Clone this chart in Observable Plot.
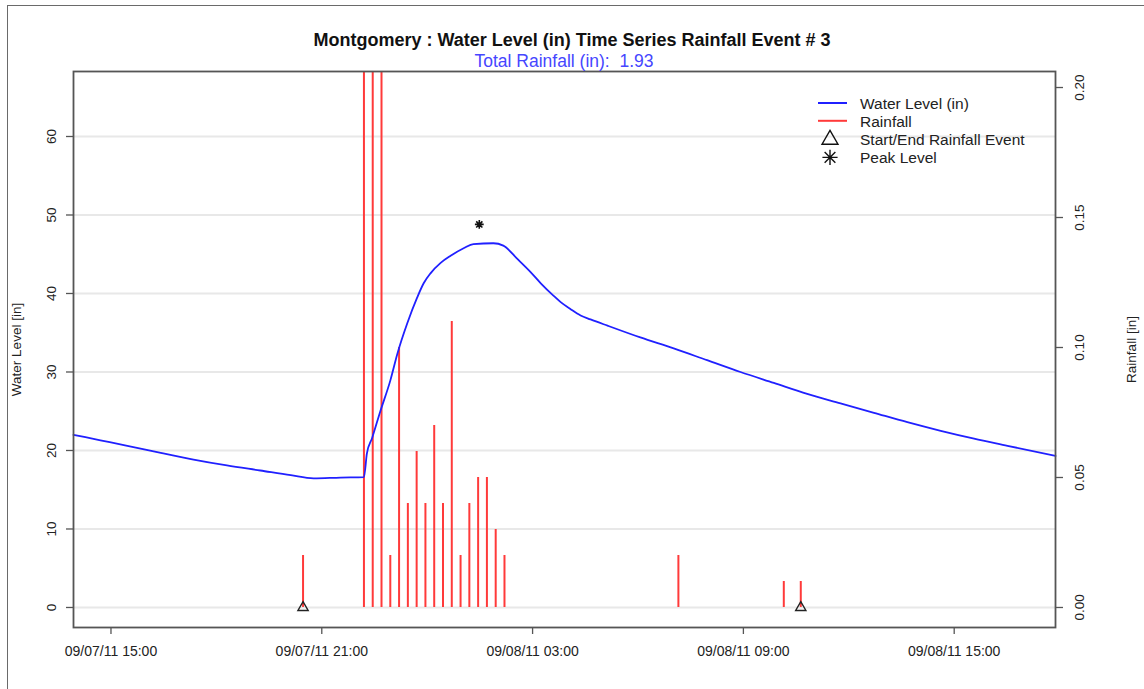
<!DOCTYPE html>
<html>
<head>
<meta charset="utf-8">
<script src="https://cdn.jsdelivr.net/npm/d3@7"></script>
<script src="https://cdn.jsdelivr.net/npm/@observablehq/plot@0.6"></script>
<style>
  body { margin: 0; background: #fff; }
  #page { position: relative; width: 1144px; height: 689px; overflow: hidden; background: #fff;
          font-family: "Liberation Sans", Arial, sans-serif; }
  .bt { position: absolute; left: 7px; top: 5px; width: 1137px; height: 0; border-top: 1.6px solid #6a6a6a; }
  .bl { position: absolute; left: 7px; top: 5px; width: 0; height: 684px; border-left: 1.6px solid #6a6a6a; }
  #title { position: absolute; top: 29px; left: 0; width: 1144px; text-align: center; font-weight: bold;
           font-size: 18px; color: #111; line-height: 22px; }
  #subtitle { position: absolute; top: 51px; left: 73px; width: 982px; text-align: center;
              font-size: 17.5px; color: #4646ff; line-height: 20px; white-space: pre; }
  #chart { position: absolute; left: 0; top: 0; }
  #legend { position: absolute; left: 810px; top: 92px; }
</style>
</head>
<body>
<div id="page">
  <div class="bt"></div>
  <div class="bl"></div>
  <div id="chart"></div>
  <div id="title">Montgomery : Water Level (in) Time Series Rainfall Event # 3</div>
  <div id="subtitle">Total Rainfall (in):  1.93</div>
  <svg id="legend" width="240" height="80"></svg>
</div>
<script>
// ---- data ----
const levelTimes = [
  "09/07/11 13:56", "09/07/11 14:42", "09/07/11 15:28", "09/07/11 16:25", "09/07/11 17:21",
  "09/07/11 18:18", "09/07/11 19:15", "09/07/11 20:07", "09/07/11 20:46", "09/07/11 21:32",
  "09/07/11 22:12", "09/07/11 22:17", "09/07/11 22:26", "09/07/11 22:40", "09/07/11 22:57",
  "09/07/11 23:09", "09/07/11 23:26", "09/07/11 23:43", "09/07/11 23:54", "09/08/11 00:06",
  "09/08/11 00:23", "09/08/11 00:40", "09/08/11 01:03", "09/08/11 01:19", "09/08/11 01:53",
  "09/08/11 02:10", "09/08/11 02:34", "09/08/11 02:57", "09/08/11 03:14", "09/08/11 03:36",
  "09/08/11 03:48", "09/08/11 04:05", "09/08/11 04:22", "09/08/11 04:39", "09/08/11 05:08",
  "09/08/11 06:04", "09/08/11 07:01", "09/08/11 07:58", "09/08/11 08:55", "09/08/11 09:52",
  "09/08/11 10:49", "09/08/11 11:46", "09/08/11 12:43", "09/08/11 13:40", "09/08/11 14:37",
  "09/08/11 15:34", "09/08/11 16:31", "09/08/11 17:53"
];
const levelValues = [
  22.0, 21.3, 20.6, 19.7, 18.85,
  18.1, 17.45, 16.85, 16.45, 16.55,
  16.6, 19.6, 21.6, 25.0, 28.9,
  32.3, 36.2, 39.5, 41.3, 42.6,
  43.9, 44.8, 45.8, 46.3, 46.4,
  46.1, 44.4, 42.7, 41.3, 39.7,
  38.9, 38.0, 37.2, 36.7, 35.9,
  34.4, 33.0, 31.5, 30.0, 28.6,
  27.2, 26.0, 24.8, 23.6, 22.5,
  21.5, 20.6, 19.3
];
const rainTimes = [
  "09/07/11 20:28", "09/07/11 22:12", "09/07/11 22:27", "09/07/11 22:42", "09/07/11 22:57",
  "09/07/11 23:12", "09/07/11 23:27", "09/07/11 23:42", "09/07/11 23:57", "09/08/11 00:12",
  "09/08/11 00:27", "09/08/11 00:42", "09/08/11 00:57", "09/08/11 01:12", "09/08/11 01:27",
  "09/08/11 01:42", "09/08/11 01:57", "09/08/11 02:12", "09/08/11 07:09", "09/08/11 10:09",
  "09/08/11 10:38"
];
const rainValues = [
  0.02, 0.45, 0.41, 0.32, 0.02,
  0.10, 0.04, 0.06, 0.04, 0.07,
  0.04, 0.11, 0.02, 0.04, 0.05,
  0.05, 0.03, 0.02, 0.02, 0.01,
  0.01
];
const eventTimes = ["09/07/11 20:28", "09/08/11 10:38"];   // start / end of rainfall event
const peakTimes = ["09/08/11 01:29"];
const peakValues = [48.8];
const xTickLabels = ["09/07/11 15:00", "09/07/11 21:00", "09/08/11 03:00", "09/08/11 09:00", "09/08/11 15:00"];
const xDomainLabels = ["09/07/11 13:56", "09/08/11 17:53"];
const levelTicks = [0, 10, 20, 30, 40, 50, 60];
const rainTicks = [0, 0.05, 0.10, 0.15, 0.20];
const levelDomain = [-2.55, 68.28];

// ---- build ----
const parse = d3.utcParse("%m/%d/%y %H:%M");
const fmt = d3.utcFormat("%m/%d/%y %H:%M");
const K = 331.2; // rainfall (in) -> water-level units on the shared vertical scale
const level = levelTimes.map((t, i) => ({t: parse(t), v: levelValues[i]}));
const rain = rainTimes.map((t, i) => ({t: parse(t), v: rainValues[i]}));
const events = eventTimes.map(t => ({t: parse(t)}));
const peak = peakTimes.map((t, i) => ({t: parse(t), v: peakValues[i]}));
const FONT = "'Liberation Sans', Arial, sans-serif";

// R's pch 8: an eight-armed star
const star8 = {
  draw(ctx, size) {
    const r = Math.sqrt(size) * 0.55;
    for (let k = 0; k < 4; k++) {
      const a = k * Math.PI / 4;
      ctx.moveTo(r * Math.cos(a), r * Math.sin(a));
      ctx.lineTo(-r * Math.cos(a), -r * Math.sin(a));
    }
  }
};

const chart = Plot.plot({
  width: 1144,
  height: 689,
  marginTop: 71,
  marginBottom: 62,
  marginLeft: 73,
  marginRight: 89,
  style: {fontFamily: FONT, fontSize: "13.5px", color: "#222", background: "transparent", overflow: "visible"},
  x: {type: "utc", domain: xDomainLabels.map(parse)},
  y: {domain: levelDomain},
  marks: [
    Plot.gridY(levelTicks, {stroke: "#e8e8e8", strokeOpacity: 1, strokeWidth: 2}),
    Plot.ruleX(rain, {x: "t", y1: 0, y2: d => d.v * K, stroke: "#ff3a3a", strokeWidth: 2, clip: true}),
    Plot.line(level, {x: "t", y: "v", stroke: "#2020ff", strokeWidth: 1.8, curve: "monotone-x"}),
    Plot.dot(events, {x: "t", y: 0, symbol: "triangle", r: 3.8, stroke: "#222", fill: "#fff", fillOpacity: 0, strokeWidth: 1.4}),
    Plot.dot(peak, {x: "t", y: "v", symbol: star8, r: 4.5, stroke: "#111", strokeWidth: 1.6}),
    Plot.axisX({ticks: xTickLabels.map(parse), tickFormat: fmt, tickSize: 7, tickPadding: 12,
                stroke: "#555", strokeWidth: 1.3, fontSize: 14, label: null}),
    Plot.axisY({ticks: levelTicks, tickRotate: -90, tickSize: 7, tickPadding: 11, stroke: "#555",
                strokeWidth: 1.3, label: "Water Level [in]", labelAnchor: "center", labelOffset: 62,
                labelArrow: "none"}),
    Plot.axisY({anchor: "right", ticks: rainTicks.map(r => r * K), tickFormat: v => (v / K).toFixed(2),
                tickRotate: -90, lineAnchor: "top", tickSize: 7, tickPadding: 12, stroke: "#555",
                strokeWidth: 1.3, label: "Rainfall [in]", labelAnchor: "center", labelOffset: 80,
                labelArrow: "none"}),
    Plot.frame({stroke: "#555", strokeWidth: 1.8})
  ]
});
document.getElementById("chart").appendChild(chart);

// ---- legend ----
const lg = d3.select("#legend");
const items = [
  {label: "Water Level (in)", kind: "line", color: "#2020ff"},
  {label: "Rainfall", kind: "line", color: "#ff3a3a"},
  {label: "Start/End Rainfall Event", kind: "triangle"},
  {label: "Peak Level", kind: "star"}
];
items.forEach((it, i) => {
  const y = 12 + i * 17.8;
  if (it.kind === "line") {
    lg.append("line").attr("x1", 8).attr("x2", 37).attr("y1", y - 1).attr("y2", y - 1)
      .attr("stroke", it.color).attr("stroke-width", 2);
  } else {
    const sym = it.kind === "triangle" ? d3.symbolTriangle : star8;
    lg.append("path").attr("transform", `translate(20,${y})`)
      .attr("d", d3.symbol(sym, it.kind === "triangle" ? 110 : 190)())
      .attr("fill", "none").attr("stroke", "#111").attr("stroke-width", 1.4);
  }
  lg.append("text").attr("x", 50).attr("y", y).attr("dy", "0.35em")
    .attr("font-family", FONT).attr("font-size", 15.5).attr("fill", "#222").text(it.label);
});
</script>
</body>
</html>
